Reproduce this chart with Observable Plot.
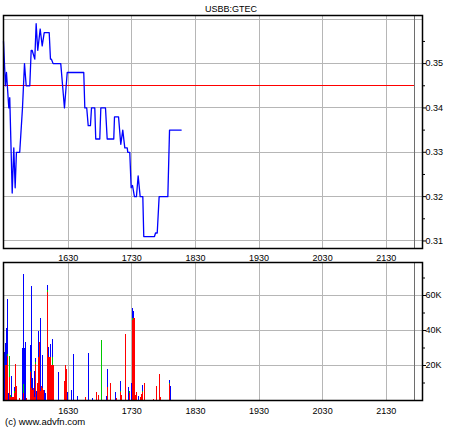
<!DOCTYPE html>
<html><head><meta charset="utf-8">
<script src="https://cdn.jsdelivr.net/npm/d3@7"></script>
<script src="https://cdn.jsdelivr.net/npm/@observablehq/plot@0.6"></script>
<style>
body{margin:0;background:#fff;}
#wrap{position:relative;width:460px;height:430px;overflow:hidden;background:#fff;font-family:"Liberation Sans",Arial,sans-serif;color:#000;}
#title{position:absolute;left:0;width:462px;top:4px;line-height:10px;text-align:center;font-size:9px;}
#price,#vol{position:absolute;left:0;}
#price{top:0;}
#vol{top:248px;}
#credit{position:absolute;left:5px;top:417px;line-height:9px;font-size:9.5px;}
</style></head><body>
<div id="wrap">
  <div id="price"></div>
  <div id="vol"></div>
  <div id="title"></div>
  <div id="credit"></div>
</div>
<script>
const FONT = '"Liberation Sans",Arial,sans-serif';
const titleText = "USBB:GTEC";
const creditText = "(c) www.advfn.com";

// time axis: minutes after 15:30
const hourTicks = [60, 120, 180, 240, 300, 360];
const hourLabels = ["1630", "1730", "1830", "1930", "2030", "2130"];
const sessionEnd = 387;       // grey marker line
const xDomain = [-1, 394.2];

// price panel
const prevClose = 0.345;
const priceTicks = [0.31, 0.32, 0.33, 0.34, 0.35];
const priceGrid = [0.31, 0.32, 0.33, 0.34, 0.35, 0.36];
const priceMinor = [0.315, 0.325, 0.335, 0.345, 0.355];
const priceMin = [-1.0, -0.1, 0.85, 1.8, 4.0, 4.9, 7.2, 8.7, 10.0, 11.2, 14.3, 16.9, 18.8, 20.4, 23.8, 25.1, 26.0, 28.5, 29.8, 31.3, 33.6, 35.5, 37.4, 42.1, 43.3, 44.2, 45.8, 53.0, 56.5, 59.1, 74.7, 75.7, 77.5, 78.9, 81.0, 82.0, 85.1, 86.0, 89.8, 90.8, 95.2, 96.8, 103.0, 103.7, 107.5, 109.6, 111.5, 113.4, 115.7, 116.2, 118.1, 119.4, 120.7, 122.5, 124.4, 126.0, 127.9, 130.4, 131.3, 141.4, 142.4, 144.0, 145.8, 154.0, 155.6, 166.6];
const priceVal = [0.355, 0.350, 0.345, 0.348, 0.340, 0.3423, 0.3208, 0.331, 0.322, 0.330, 0.330, 0.340, 0.350, 0.345, 0.345, 0.353, 0.353, 0.351, 0.359, 0.353, 0.3578, 0.354, 0.357, 0.357, 0.351, 0.351, 0.350, 0.350, 0.340, 0.348, 0.348, 0.340, 0.340, 0.336, 0.336, 0.340, 0.340, 0.333, 0.333, 0.340, 0.340, 0.333, 0.333, 0.338, 0.338, 0.3318, 0.335, 0.331, 0.331, 0.330, 0.330, 0.322, 0.3225, 0.320, 0.320, 0.3247, 0.320, 0.320, 0.311, 0.311, 0.3118, 0.3118, 0.320, 0.320, 0.335, 0.335];

// volume panel (thousands of shares)
const volTicks = [20, 40, 60];
const volTickLabels = ["20K", "40K", "60K"];
const volMinor = [10, 30, 50, 70];
const volMin =   [-1.0, -0.1, 0.9, 1.8, 2.8, 3.7, 4.7, 5.6, 6.5, 7.5, 8.4, 9.4, 10.3, 11.3, 14.1, 16.9, 17.9, 18.8, 19.7, 20.7, 24.5, 25.4, 26.3, 27.3, 28.2, 29.2, 30.1, 31.1, 32.0, 32.9, 33.9, 34.8, 35.8, 36.7, 37.7, 38.6, 40.5, 41.4, 42.4, 43.3, 44.3, 45.2, 46.1, 50.8, 56.5, 57.4, 58.4, 59.3, 63.1, 65.0, 68.8, 76.3, 79.1, 82.9, 86.7, 88.6, 91.4, 96.1, 97.0, 99.9, 104.6, 105.5, 109.3, 110.2, 114.0, 116.8, 117.8, 119.7, 120.6, 121.6, 122.5, 123.4, 124.4, 126.3, 128.2, 129.1, 130.0, 131.9, 140.4, 143.2, 146.1, 147.0, 155.5, 156.4];
const volTotal = [1.5, 27.6, 32.4, 41, 57.5, 4, 25, 3, 13.9, 2, 1.5, 7.6, 20.6, 8.2, 1.3, 29.5, 72, 29.5, 33, 1.3, 31.4, 65, 12.4, 6.7, 16.8, 23.8, 5, 10, 39.4, 33, 47, 8, 25.7, 5.7, 5.7, 4, 66, 30.5, 24.8, 32, 20, 34.9, 20, 16.2, 10.9, 19.8, 17.5, 4.4, 5.7, 26.3, 2.3, 1.5, 26.9, 1.3, 4.6, 2.9, 34.3, 2.1, 17.5, 9.8, 4.8, 1.3, 10.9, 2.7, 37.7, 7.4, 5, 9.7, 52.8, 51, 47, 2.7, 4.6, 2.3, 1.5, 3.5, 8.4, 9.7, 0.8, 8, 14.9, 2, 11.4, 8];
const volRed =   [0, 0, 20, 20, 25, 0, 13, 2, 2, 2, 1.5, 4, 20.6, 8.2, 1.3, 0, 4, 0, 0, 1.3, 16, 7, 6, 6.7, 2, 20.6, 0, 10, 24.8, 33, 5, 8, 7, 5.7, 0, 0, 62, 24.8, 24.8, 24.8, 20, 20, 20, 0, 10.9, 19.8, 17.5, 0, 0, 0, 0, 1.5, 0, 0, 4.6, 2.9, 0, 0, 7.4, 9.8, 0, 1.3, 4.6, 2.7, 37.7, 0, 4.2, 0, 46, 47, 47, 2.7, 4.6, 0, 1.5, 3.5, 4.6, 9.7, 0.8, 8, 14.9, 2, 9, 0];
const volGreen = [1.5, 0, 0, 0, 1.5, 0, 12, 1, 0, 0, 0, 1, 0, 0, 0, 0, 5, 0, 0, 0, 0.6, 0, 0, 0, 0, 1.3, 0, 0, 0, 0, 0, 0, 0, 0, 0, 0, 0.8, 0, 0, 0, 0, 4.8, 0, 0, 0, 0, 0, 0, 0, 0, 0, 0, 0, 0, 0, 0, 34.3, 0, 0, 0, 0, 0, 0.5, 0, 0, 0, 0.8, 0, 0.8, 0, 0, 0, 0, 0, 0, 0, 0.8, 0, 0, 0, 0, 0, 0.8, 0];

const priceData = priceMin.map((m, i) => ({m, p: priceVal[i]}));
const volData = volMin.map((m, i) => ({m, total: volTotal[i], red: volRed[i], green: volGreen[i]}));

const GRID = "#b6b6b6";
const BLUE = "#0000ff", RED = "#ff0000", GREEN = "#00c800";
const style = {background: "transparent", fontFamily: FONT, fontSize: "9px", color: "#000", overflow: "visible"};
const fmtHour = d => hourLabels[hourTicks.indexOf(d)];
const crisp = {strokeWidth: 1, shapeRendering: "crispEdges"};

const price = Plot.plot({
  width: 460, height: 262,
  marginTop: 15, marginBottom: 14, marginLeft: 3, marginRight: 38,
  style,
  x: {domain: xDomain},
  y: {domain: [0.3083, 0.36085]},
  marks: [
    Plot.ruleY(priceGrid, {stroke: GRID, ...crisp}),
    Plot.ruleX(hourTicks, {stroke: GRID, ...crisp}),
    Plot.ruleY([prevClose], {x1: xDomain[0], x2: sessionEnd, stroke: RED, ...crisp}),
    Plot.ruleX([sessionEnd], {stroke: "#6e6e6e", ...crisp}),
    Plot.line(priceData, {x: "m", y: "p", stroke: BLUE, strokeWidth: 1.3}),
    Plot.axisY({anchor: "right", ticks: priceTicks, tickFormat: d => d.toFixed(2), tickSize: 3, tickPadding: 0, label: null}),
    Plot.axisY({anchor: "right", ticks: priceMinor, tickFormat: () => "", tickSize: 2, label: null}),
    Plot.axisX({anchor: "bottom", ticks: hourTicks, tickFormat: fmtHour, tickSize: 0, tickPadding: 6, label: null}),
    Plot.frame({stroke: "#000", strokeWidth: 1.5})
  ]
});
document.getElementById("price").appendChild(price);

const vol = Plot.plot({
  width: 460, height: 170,
  marginTop: 14, marginBottom: 18, marginLeft: 3, marginRight: 38,
  style,
  x: {domain: xDomain},
  y: {domain: [0, 78.86]},
  marks: [
    Plot.ruleY(volTicks, {stroke: GRID, ...crisp}),
    Plot.ruleX(hourTicks, {stroke: GRID, ...crisp}),
    Plot.ruleX([sessionEnd], {stroke: "#6e6e6e", ...crisp}),
    Plot.ruleX(volData, {x: "m", y1: 0, y2: "total", stroke: BLUE, ...crisp}),
    Plot.ruleX(volData.filter(d => d.green > 0), {x: "m", y1: 0, y2: d => d.red + d.green, stroke: GREEN, ...crisp}),
    Plot.ruleX(volData.filter(d => d.red > 0), {x: "m", y1: 0, y2: "red", stroke: RED, ...crisp}),
    Plot.axisY({anchor: "right", ticks: volTicks, tickFormat: d => volTickLabels[volTicks.indexOf(d)], tickSize: 3, tickPadding: 0, label: null}),
    Plot.axisY({anchor: "right", ticks: volMinor, tickFormat: () => "", tickSize: 2, label: null}),
    Plot.axisX({anchor: "bottom", ticks: hourTicks, tickFormat: fmtHour, tickSize: 0, tickPadding: 7, label: null}),
    Plot.frame({stroke: "#000", strokeWidth: 1.5})
  ]
});
document.getElementById("vol").appendChild(vol);

document.getElementById("title").textContent = titleText;
document.getElementById("credit").textContent = creditText;
</script>
</body></html>
